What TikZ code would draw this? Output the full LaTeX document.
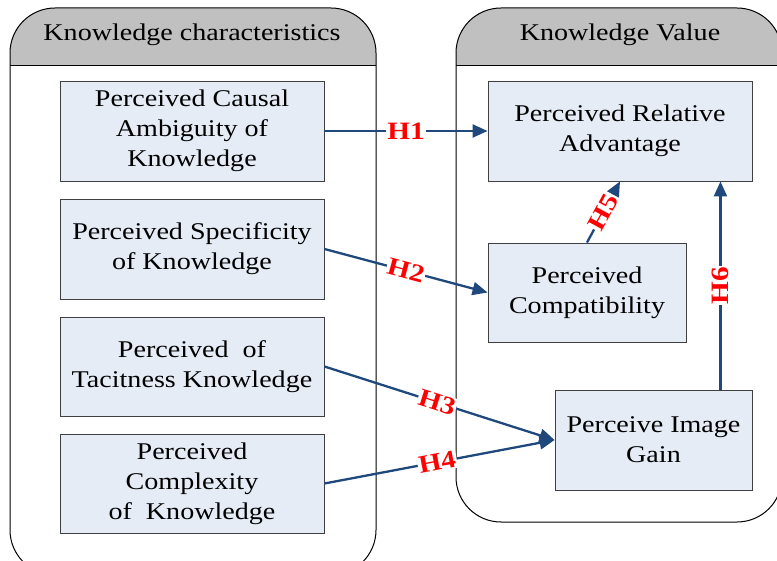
\documentclass[tikz,border=0pt]{standalone}
\usepackage{fontspec}
\setmainfont[FakeStretch=1.17]{Liberation Serif}
\usetikzlibrary{arrows.meta}

\definecolor{boxblue}{RGB}{230,236,246}
\definecolor{linkblue}{RGB}{31,73,125}
\definecolor{headgray}{RGB}{192,192,192}

\tikzset{
  var/.style={draw=black!75,line width=0.9pt,fill=boxblue,align=center,
    font=\fontsize{24}{30}\selectfont},
  link/.style={draw=linkblue,line width=2.3pt,
    -{Triangle[length=15pt,width=13pt]}},
  hyp/.style={fill=white,inner sep=1pt,text=red,
    font=\fontsize{25}{26}\selectfont\bfseries},
  panel/.style={draw=black,line width=1pt,rounded corners=45pt},
  head/.style={font=\fontsize{24}{26}\selectfont}
}

\begin{document}
\begin{tikzpicture}[x=1pt,y=-1pt]
\useasboundingbox (0,0) rectangle (777,561);
\clip (0,0) rectangle (777,561);

\pgfmathsetmacro{\headline}{66}

% the two panels
\begin{scope}
\clip[rounded corners=45pt] (10,8) rectangle (376,575);
\fill[headgray] (10,8) rectangle (376,\headline);
\end{scope}
\draw[panel] (10,8) rectangle (376,575);
\draw[line width=1pt] (10,\headline) -- (376,\headline);
\node[head] (kc) at (192,35) {Knowledge characteristics};

\begin{scope}
\clip[rounded corners=45pt] (456,8) rectangle (782,522);
\fill[headgray] (456,8) rectangle (782,\headline);
\end{scope}
\draw[panel] (456,8) rectangle (782,522);
\draw[line width=1pt] (456,\headline) -- (782,\headline);
\node[head] (kv) at (620,35) {Knowledge Value};

% variables
\node[var,minimum width=264pt,minimum height=100pt] (caus) at (192,131)
  {Perceived Causal\\Ambiguity of\\Knowledge};
\node[var,minimum width=264pt,minimum height=100pt] (spec) at (192,249)
  {Perceived Specificity\\of Knowledge};
\node[var,minimum width=264pt,minimum height=99pt] (taci) at (192,366.5)
  {Perceived~ of\\Tacitness Knowledge};
\node[var,minimum width=264pt,minimum height=99pt] (comx) at (192,483.5)
  {Perceived\\Complexity\\of~ Knowledge};

\node[var,minimum width=264pt,minimum height=100pt] (adv) at (620,131)
  {Perceived Relative\\Advantage};
\node[var,minimum width=198pt,minimum height=99pt] (compa) at (587,292.5)
  {Perceived\\Compatibility};
\node[var,minimum width=197pt,minimum height=100pt] (img) at (653.5,440)
  {Perceive Image\\Gain};

% hypotheses
\draw[link] (caus.east) -- node[hyp] {H1} (adv.west);
\draw[link] (spec.east) -- node[hyp,sloped] {H2} (compa.west);
\draw[link] (taci.east) -- node[hyp,sloped,pos=0.49] {H3} (img.west);
\draw[link] (comx.east) -- node[hyp,sloped,pos=0.49] {H4} (img.west);
\draw[link] (compa.north) -- node[hyp,sloped] {H5} (adv.south);
\draw[link] ([xshift=-32pt]img.north east) -- node[hyp,sloped] {H6}
  ([xshift=-32pt]adv.south east);

\end{tikzpicture}
\end{document}
